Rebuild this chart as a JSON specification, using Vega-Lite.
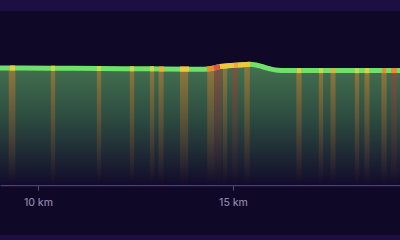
{
  "$schema": "https://vega.github.io/schema/vega-lite/v6.json",
  "width": 400,
  "height": 224,
  "autosize": {"type": "none"},
  "padding": {"top": 11, "bottom": 5, "left": 0, "right": 0},
  "background": "#1d0f42",
  "view": {"fill": "#0f0827", "stroke": null},
  "datasets": {
    "profile": [
      {"km": 9.026, "e": 58.5},
      {"km": 10.308, "e": 58.4},
      {"km": 11.59, "e": 58.25},
      {"km": 12.872, "e": 58.1},
      {"km": 14.154, "e": 57.9},
      {"km": 14.359, "e": 58.0},
      {"km": 14.513, "e": 58.5},
      {"km": 14.667, "e": 59.25},
      {"km": 14.923, "e": 59.75},
      {"km": 15.18, "e": 60.0},
      {"km": 15.436, "e": 60.35},
      {"km": 15.59, "e": 60.0},
      {"km": 15.744, "e": 59.25},
      {"km": 15.949, "e": 58.1},
      {"km": 16.154, "e": 57.35},
      {"km": 16.333, "e": 57.2},
      {"km": 19.282, "e": 57.2}
    ],
    "bands": [
      {"km": 9.25, "km2": 9.42, "e": 58.48, "c": "o"},
      {"km": 10.33, "km2": 10.44, "e": 58.4, "c": "o"},
      {"km": 11.51, "km2": 11.62, "e": 58.25, "c": "o"},
      {"km": 12.355, "km2": 12.465, "e": 58.15, "c": "o"},
      {"km": 12.87, "km2": 12.98, "e": 58.1, "c": "o"},
      {"km": 13.09, "km2": 13.22, "e": 58.05, "c": "o"},
      {"km": 13.64, "km2": 13.85, "e": 57.95, "c": "o"},
      {"km": 14.34, "km2": 14.513, "e": 58.5, "c": "o"},
      {"km": 14.513, "km2": 14.71, "e": 59.3, "c": "r"},
      {"km": 14.74, "km2": 14.85, "e": 59.5, "c": "o"},
      {"km": 14.98, "km2": 15.12, "e": 59.85, "c": "r"},
      {"km": 15.29, "km2": 15.43, "e": 60.3, "c": "o"},
      {"km": 16.625, "km2": 16.76, "e": 57.2, "c": "o"},
      {"km": 17.2, "km2": 17.31, "e": 57.2, "c": "o"},
      {"km": 17.5, "km2": 17.63, "e": 57.2, "c": "o"},
      {"km": 18.125, "km2": 18.235, "e": 57.2, "c": "o"},
      {"km": 18.37, "km2": 18.5, "e": 57.2, "c": "o"},
      {"km": 18.805, "km2": 18.94, "e": 57.2, "c": "o"},
      {"km": 19.06, "km2": 19.2, "e": 57.2, "c": "r"}
    ],
    "segments": [
      {"km": 9.282, "km2": 9.411, "e": 58.48, "e2": 58.47, "c": "y"},
      {"km": 10.334, "km2": 10.436, "e": 58.4, "e2": 58.39, "c": "ly"},
      {"km": 11.513, "km2": 11.616, "e": 58.26, "e2": 58.25, "c": "ly"},
      {"km": 12.359, "km2": 12.462, "e": 58.16, "e2": 58.15, "c": "ly"},
      {"km": 12.872, "km2": 12.975, "e": 58.1, "e2": 58.09, "c": "ly"},
      {"km": 13.103, "km2": 13.231, "e": 58.06, "e2": 58.04, "c": "yo"},
      {"km": 13.641, "km2": 13.872, "e": 57.98, "e2": 57.94, "c": "y"},
      {"km": 14.333, "km2": 14.513, "e": 57.99, "e2": 58.5, "c": "o"},
      {"km": 14.513, "km2": 14.667, "e": 58.5, "e2": 59.25, "c": "r"},
      {"km": 14.667, "km2": 15.026, "e": 59.25, "e2": 59.85, "c": "y"},
      {"km": 15.026, "km2": 15.128, "e": 59.85, "e2": 59.95, "c": "yo"},
      {"km": 15.128, "km2": 15.436, "e": 59.95, "e2": 60.35, "c": "y"},
      {"km": 16.641, "km2": 16.744, "e": 57.2, "e2": 57.2, "c": "y"},
      {"km": 17.205, "km2": 17.308, "e": 57.2, "e2": 57.2, "c": "ly"},
      {"km": 17.513, "km2": 17.615, "e": 57.2, "e2": 57.2, "c": "yo"},
      {"km": 18.128, "km2": 18.231, "e": 57.2, "e2": 57.2, "c": "ly"},
      {"km": 18.385, "km2": 18.487, "e": 57.2, "e2": 57.2, "c": "y"},
      {"km": 18.821, "km2": 18.923, "e": 57.2, "e2": 57.2, "c": "o"},
      {"km": 19.051, "km2": 19.205, "e": 57.2, "e2": 57.2, "c": "o"}
    ]
  },
  "layer": [
    {
      "data": {"name": "profile"},
      "mark": {
        "type": "area",
        "interpolate": "monotone",
        "fill": {
          "gradient": "linear", "x1": 0, "y1": 0, "x2": 0, "y2": 1,
          "stops": [
            {"offset": 0, "color": "#447250"},
            {"offset": 0.45, "color": "#2c4b40"},
            {"offset": 1, "color": "#120b2b"}
          ]
        }
      },
      "encoding": {
        "x": {"field": "km", "type": "quantitative", "scale": {"domain": [9.026, 19.282], "nice": false, "zero": false},
          "axis": {"values": [10, 15], "labelExpr": "datum.value + ' km'", "title": null, "grid": false, "offset": -50,
            "domainColor": "#4a3f6e", "domainWidth": 1.5, "tickColor": "#5a4f80", "tickSize": 5, "tickWidth": 1,
            "labelColor": "#8a82a6", "labelFont": "Inter", "labelFontSize": 10.5, "labelFontWeight": 500, "labelPadding": 7}},
        "y": {"field": "e", "type": "quantitative", "scale": {"domain": [-25, 87], "nice": false, "zero": false}, "axis": null},
        "y2": {"datum": 0}
      }
    },
    {
      "data": {"name": "bands"},
      "transform": [{"filter": "datum.c == 'o'"}],
      "mark": {
        "type": "rect",
        "fill": {
          "gradient": "linear", "x1": 0, "y1": 0, "x2": 0, "y2": 1,
          "stops": [
            {"offset": 0, "color": "rgba(235,130,35,0.45)"},
            {"offset": 0.6, "color": "rgba(215,105,35,0.2)"},
            {"offset": 1, "color": "rgba(200,90,40,0)"}
          ]
        }
      },
      "encoding": {
        "x": {"field": "km", "type": "quantitative"},
        "x2": {"field": "km2"},
        "y": {"field": "e", "type": "quantitative"},
        "y2": {"datum": 0}
      }
    },
    {
      "data": {"name": "bands"},
      "transform": [{"filter": "datum.c == 'r'"}],
      "mark": {
        "type": "rect",
        "fill": {
          "gradient": "linear", "x1": 0, "y1": 0, "x2": 0, "y2": 1,
          "stops": [
            {"offset": 0, "color": "rgba(195,50,45,0.45)"},
            {"offset": 0.6, "color": "rgba(175,45,45,0.2)"},
            {"offset": 1, "color": "rgba(160,40,50,0)"}
          ]
        }
      },
      "encoding": {
        "x": {"field": "km", "type": "quantitative"},
        "x2": {"field": "km2"},
        "y": {"field": "e", "type": "quantitative"},
        "y2": {"datum": 0}
      }
    },
    {
      "data": {"name": "profile"},
      "mark": {"type": "line", "interpolate": "monotone", "color": "#6fe06c", "strokeWidth": 5},
      "encoding": {
        "x": {"field": "km", "type": "quantitative"},
        "y": {"field": "e", "type": "quantitative"}
      }
    },
    {
      "data": {"name": "segments"},
      "mark": {"type": "rule", "strokeWidth": 5, "strokeCap": "butt"},
      "encoding": {
        "x": {"field": "km", "type": "quantitative"},
        "x2": {"field": "km2"},
        "y": {"field": "e", "type": "quantitative"},
        "y2": {"field": "e2"},
        "color": {"field": "c", "type": "nominal", "legend": null,
          "scale": {"domain": ["ly", "y", "yo", "o", "r"], "range": ["#c9d84a", "#f2c83a", "#eeac33", "#ef8a2e", "#e2553a"]}}
      }
    }
  ]
}
